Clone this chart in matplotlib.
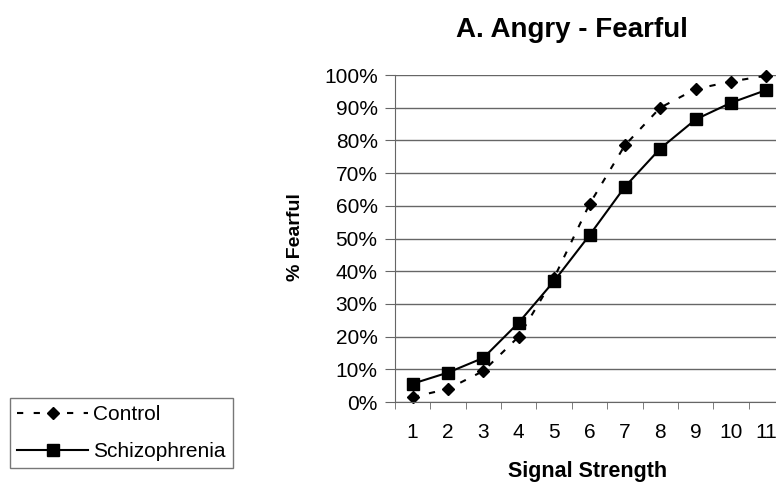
import matplotlib
matplotlib.use('Agg')
import matplotlib.pyplot as plt
from matplotlib.ticker import PercentFormatter, FixedLocator

plt.rcParams['font.family'] = ['Liberation Sans', 'DejaVu Sans']

# data
signal = [1, 2, 3, 4, 5, 6, 7, 8, 9, 10, 11]
control = [0.015, 0.04, 0.095, 0.20, 0.38, 0.605, 0.785, 0.90, 0.957, 0.98, 0.998]
schizophrenia = [0.056, 0.09, 0.135, 0.243, 0.37, 0.51, 0.658, 0.775, 0.864, 0.915, 0.954]
y_ticks = [i / 10 for i in range(11)]

W, H = 776, 483
fig = plt.figure(figsize=(W / 100, H / 100), dpi=100)
# plot area runs past the right edge, as in the reference
ax = fig.add_axes([395 / W, 1 - 402 / H, 389 / W, 327 / H])

ax.plot(signal, control, color='black', linestyle=(0, (3, 5)), linewidth=1.5,
        marker='D', markersize=6, label='Control', clip_on=False)
ax.plot(signal, schizophrenia, color='black', linestyle='-', linewidth=1.5,
        marker='s', markersize=8, label='Schizophrenia', clip_on=False)

ax.set_xlim(0.5, 11.5)
ax.set_ylim(0, 1)
ax.set_yticks(y_ticks)
ax.yaxis.set_major_formatter(PercentFormatter(1.0, decimals=0))
ax.yaxis.grid(True, color='#666666', linewidth=1)
ax.set_axisbelow(True)

ax.set_xticks(signal)
ax.xaxis.set_minor_locator(FixedLocator([i + 0.5 for i in range(0, 12)]))
ax.tick_params(axis='x', which='major', length=0, pad=15, labelsize=15)
ax.tick_params(axis='x', which='minor', length=5, color='#666666')
ax.tick_params(axis='y', length=7, color='#666666', labelsize=15, pad=5.5)

for side in ['top', 'right']:
    ax.spines[side].set_visible(False)
for side in ['left', 'bottom']:
    ax.spines[side].set_color('#666666')

fig.text(588 / W, 1 - 477 / H, 'Signal Strength', fontsize=15.5, fontweight='bold',
         ha='center', va='baseline')
fig.text(295 / W, 1 - 237 / H, '% Fearful', fontsize=14, fontweight='bold',
         ha='center', va='center', rotation=90)
fig.text(572 / W, 1 - 37 / H, 'A. Angry - Fearful', fontsize=20, fontweight='bold',
         ha='center', va='baseline')

leg = fig.legend(loc='upper left', bbox_to_anchor=(10 / W, 1 - 398 / H),
                 frameon=True, fancybox=False, edgecolor='#555555', fontsize=15,
                 handlelength=3.4, handletextpad=0.25, borderpad=0.35, labelspacing=0.85,
                 borderaxespad=0)
leg.get_frame().set_linewidth(1)

plt.savefig('out.png', dpi=100)
